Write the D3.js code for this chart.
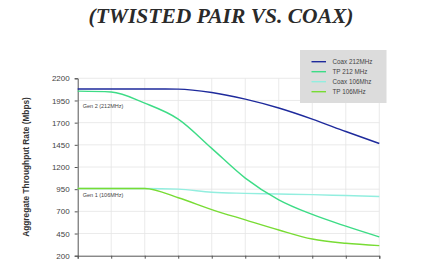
<!DOCTYPE html>
<html><head><meta charset="utf-8">
<script src="https://d3js.org/d3.v7.min.js"></script>
<style>body{margin:0;background:#fff;}svg{display:block;}</style>
</head><body>
<svg id="c" width="440" height="264"></svg>
<script>
const titleText = "(TWISTED PAIR VS. COAX)";
const xTicks = [0,1,2,3,4,5,6,7,8,9];
const yTicks = [200,450,700,950,1200,1450,1700,1950,2200];
const seriesNames = ["Coax 212MHz","TP 212 MHz","Coax 106Mhz","TP 106MHz"];
const seriesColors = ["#1e2a9c","#3ddc86","#92eedf","#78dc34"];
const coax212 = [2080,2080,2080,2078,2040,1965,1865,1740,1600,1465];
const tp212   = [2055,2045,1920,1740,1410,1075,830,665,533,412];
const coax106 = [958,958,958,950,915,903,895,888,878,868];
const tp106   = [958,958,958,853,720,604,490,388,340,314];
const genLabels = ["Gen 2 (212MHz)","Gen 1 (106MHz)"];
const genLabelPos = [{x:0.15,v:1870},{x:0.15,v:860}];
const yTitle = "Aggregate Throughput Rate (Mbps)";

const svg = d3.select("#c");
const x = d3.scaleLinear().domain([0,9]).range([77.7,379.3]);
const y = d3.scaleLinear().domain([200,2200]).range([255.7,78.3]);

// title
svg.append("text").attr("x",221).attr("y",23).attr("text-anchor","middle")
  .attr("font-family","'Liberation Serif','DejaVu Serif',serif").attr("font-style","italic")
  .attr("font-weight","bold").attr("font-size",22).attr("fill","#2a2a2a")
  .attr("textLength",265).attr("lengthAdjust","spacingAndGlyphs").text(titleText);

// grid
const g = svg.append("g");
g.selectAll(".gx").data(xTicks.slice(1)).enter().append("line")
  .attr("x1",d=>x(d)).attr("x2",d=>x(d)).attr("y1",y(2200)).attr("y2",y(200))
  .attr("stroke","#e4e4e4").attr("stroke-width",0.8);
g.selectAll(".gy").data(yTicks.slice(1)).enter().append("line")
  .attr("x1",x(0)).attr("x2",x(9)).attr("y1",d=>y(d)).attr("y2",d=>y(d))
  .attr("stroke","#e4e4e4").attr("stroke-width",0.8);

// axes
const yAxis = svg.append("g").attr("transform",`translate(${x(0)},0)`)
  .call(d3.axisLeft(y).tickValues(yTicks).tickSize(3).tickPadding(5).tickFormat(d3.format("d")));
yAxis.select(".domain").attr("stroke","#555");
yAxis.selectAll(".tick line").attr("stroke","#555");
yAxis.selectAll("text").attr("font-family","'Liberation Sans',Arial,sans-serif").attr("font-size",8).attr("fill","#444");
const xAxis = svg.append("g").attr("transform",`translate(0,${y(200)})`)
  .call(d3.axisBottom(x).tickValues(xTicks).tickSize(3).tickFormat(""));
xAxis.select(".domain").attr("stroke","#555");
xAxis.selectAll(".tick line").attr("stroke","#555");

// y title
svg.append("text").attr("transform","translate(29,167) rotate(-90)").attr("text-anchor","middle")
  .attr("font-family","'Liberation Sans',Arial,sans-serif").attr("font-weight","bold").attr("font-size",8.3)
  .attr("fill","#333").text(yTitle);

// lines
const allSeries = [coax212,tp212,coax106,tp106];
const line = d3.line().x((d,i)=>x(xTicks[i])).y(d=>y(d)).curve(d3.curveMonotoneX);
const drawOrder = [2,3,1,0];
drawOrder.forEach(k=>{
  svg.append("path").datum(allSeries[k]).attr("d",line).attr("fill","none")
    .attr("stroke",seriesColors[k]).attr("stroke-width",1.4);
});

// gen labels
genLabels.forEach((t,i)=>{
  svg.append("text").attr("x",x(genLabelPos[i].x)).attr("y",y(genLabelPos[i].v))
    .attr("font-family","'Liberation Sans',Arial,sans-serif").attr("font-size",5.5).attr("fill","#444").text(t);
});

// legend
const lg = svg.append("g");
lg.append("rect").attr("x",300).attr("y",50).attr("width",86.5).attr("height",53).attr("fill","#dcdcdc");
seriesNames.forEach((n,i)=>{
  const yy = 61.7 + i*10;
  lg.append("line").attr("x1",311.5).attr("x2",326).attr("y1",yy).attr("y2",yy)
    .attr("stroke",seriesColors[i]).attr("stroke-width",1.4);
  lg.append("text").attr("x",332.5).attr("y",yy+2.2)
    .attr("font-family","'Liberation Sans',Arial,sans-serif").attr("font-size",6.3).attr("fill","#444").text(n);
});
</script>
</body></html>
